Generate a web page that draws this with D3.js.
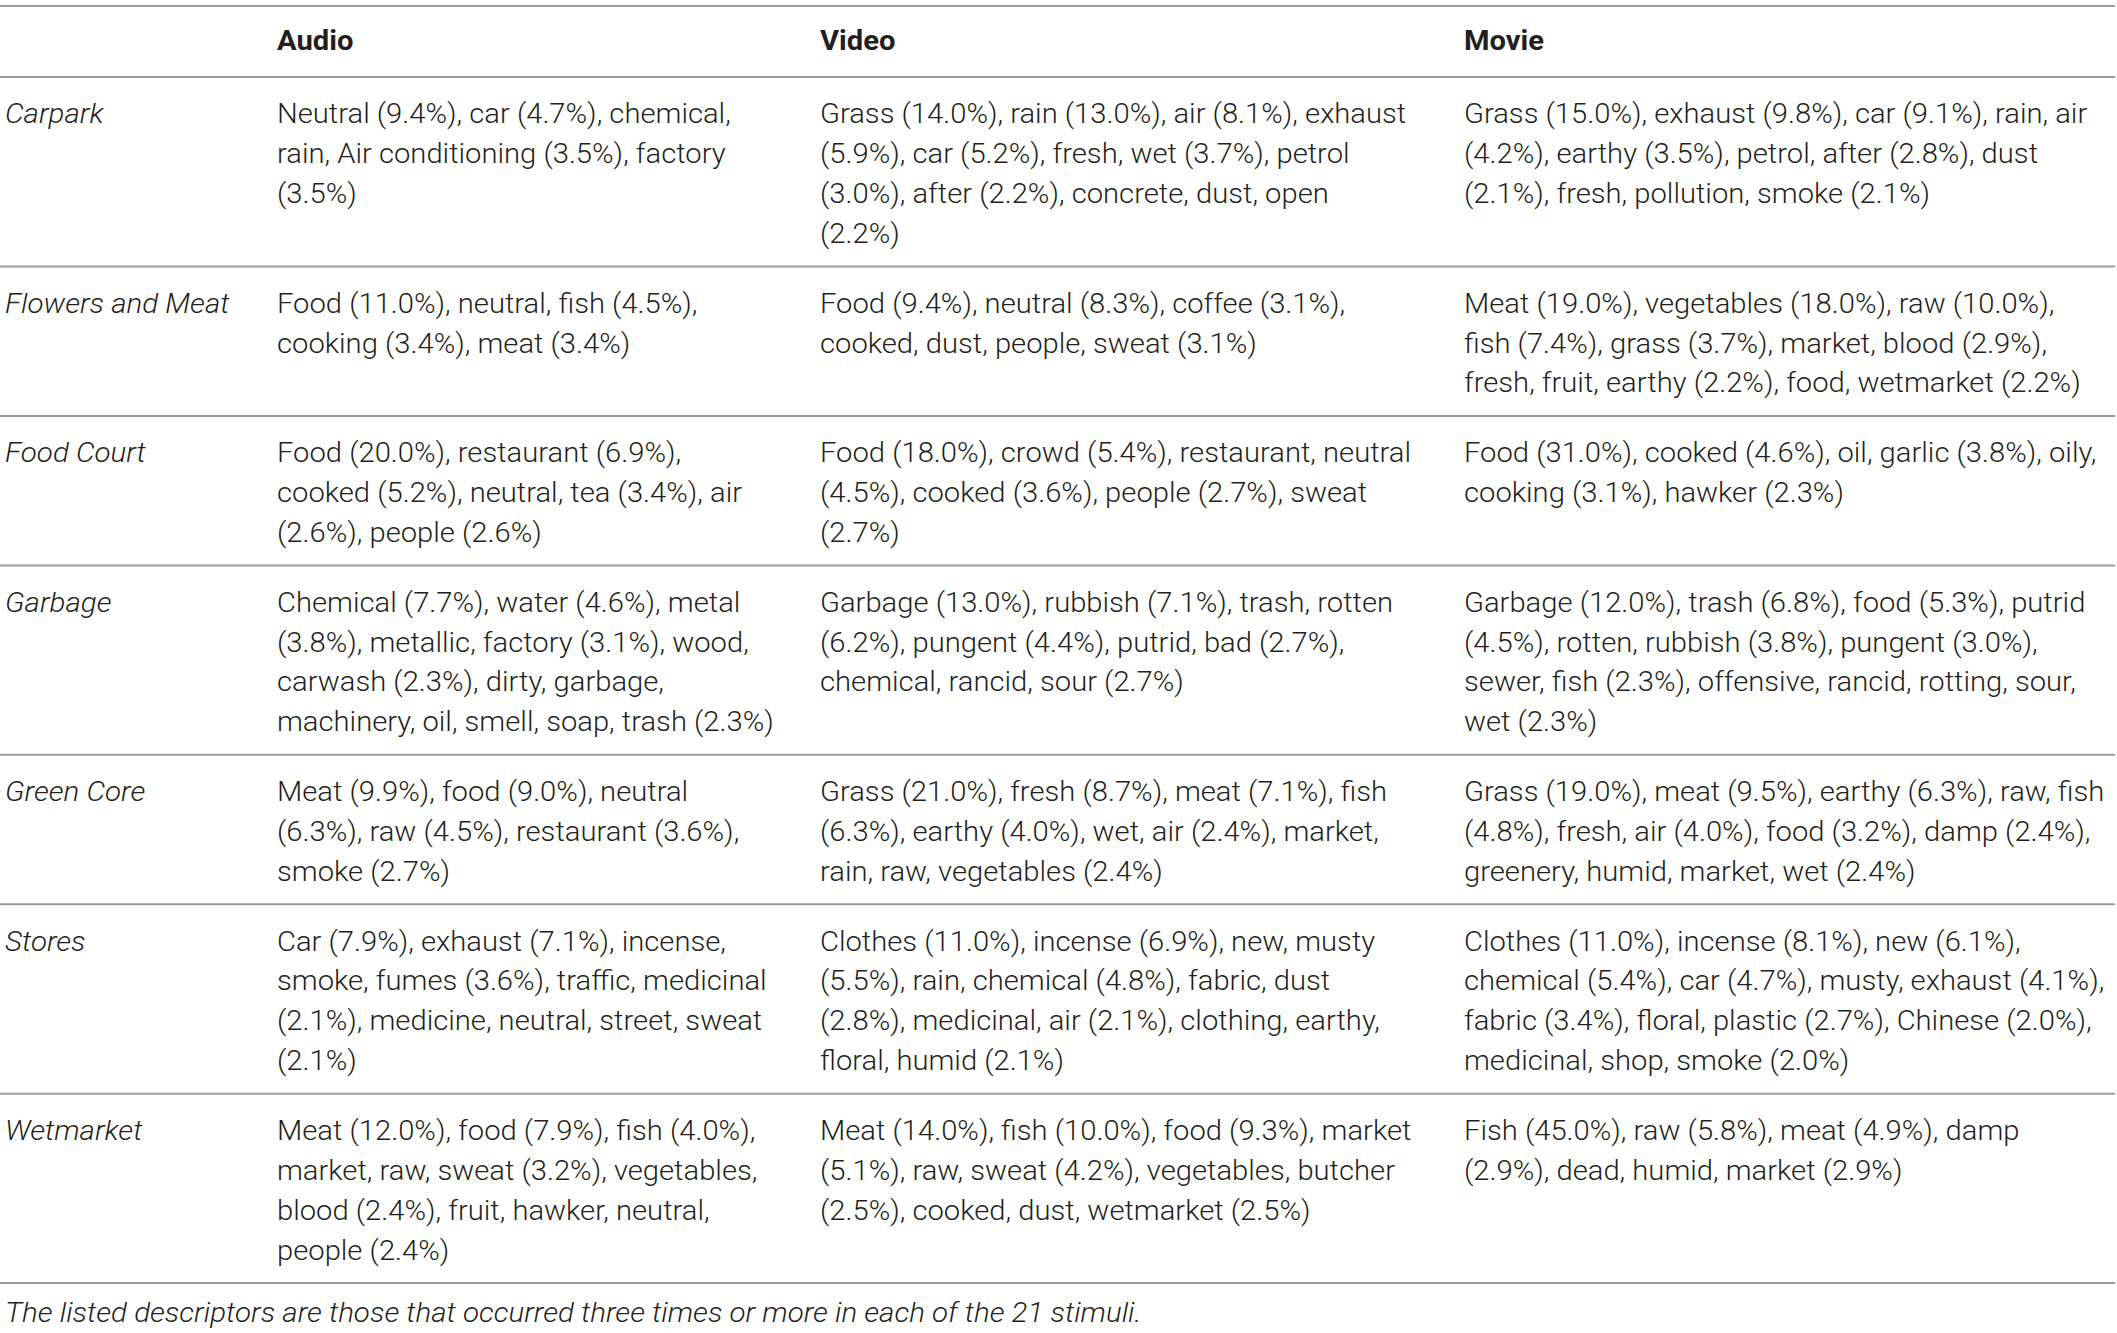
<!DOCTYPE html>
<html>
<head>
<meta charset="utf-8">
<script src="https://cdn.jsdelivr.net/npm/d3@7"></script>
<style>
  html, body { margin: 0; padding: 0; background: #fff; }
  svg { display: block; }
</style>
</head>
<body>
<svg id="chart" width="2117" height="1333"></svg>
<script>
// ---- data ----
const columns = ["", "Audio", "Video", "Movie"];
const rowLabels = ["Carpark", "Flowers and Meat", "Food Court", "Garbage", "Green Core", "Stores", "Wetmarket"];
const audioCells = [
  ["Neutral (9.4%), car (4.7%), chemical,", "rain, Air conditioning (3.5%), factory", "(3.5%)"],
  ["Food (11.0%), neutral, fish (4.5%),", "cooking (3.4%), meat (3.4%)"],
  ["Food (20.0%), restaurant (6.9%),", "cooked (5.2%), neutral, tea (3.4%), air", "(2.6%), people (2.6%)"],
  ["Chemical (7.7%), water (4.6%), metal", "(3.8%), metallic, factory (3.1%), wood,", "carwash (2.3%), dirty, garbage,", "machinery, oil, smell, soap, trash (2.3%)"],
  ["Meat (9.9%), food (9.0%), neutral", "(6.3%), raw (4.5%), restaurant (3.6%),", "smoke (2.7%)"],
  ["Car (7.9%), exhaust (7.1%), incense,", "smoke, fumes (3.6%), traffic, medicinal", "(2.1%), medicine, neutral, street, sweat", "(2.1%)"],
  ["Meat (12.0%), food (7.9%), fish (4.0%),", "market, raw, sweat (3.2%), vegetables,", "blood (2.4%), fruit, hawker, neutral,", "people (2.4%)"]
];
const videoCells = [
  ["Grass (14.0%), rain (13.0%), air (8.1%), exhaust", "(5.9%), car (5.2%), fresh, wet (3.7%), petrol", "(3.0%), after (2.2%), concrete, dust, open", "(2.2%)"],
  ["Food (9.4%), neutral (8.3%), coffee (3.1%),", "cooked, dust, people, sweat (3.1%)"],
  ["Food (18.0%), crowd (5.4%), restaurant, neutral", "(4.5%), cooked (3.6%), people (2.7%), sweat", "(2.7%)"],
  ["Garbage (13.0%), rubbish (7.1%), trash, rotten", "(6.2%), pungent (4.4%), putrid, bad (2.7%),", "chemical, rancid, sour (2.7%)"],
  ["Grass (21.0%), fresh (8.7%), meat (7.1%), fish", "(6.3%), earthy (4.0%), wet, air (2.4%), market,", "rain, raw, vegetables (2.4%)"],
  ["Clothes (11.0%), incense (6.9%), new, musty", "(5.5%), rain, chemical (4.8%), fabric, dust", "(2.8%), medicinal, air (2.1%), clothing, earthy,", "floral, humid (2.1%)"],
  ["Meat (14.0%), fish (10.0%), food (9.3%), market", "(5.1%), raw, sweat (4.2%), vegetables, butcher", "(2.5%), cooked, dust, wetmarket (2.5%)"]
];
const movieCells = [
  ["Grass (15.0%), exhaust (9.8%), car (9.1%), rain, air", "(4.2%), earthy (3.5%), petrol, after (2.8%), dust", "(2.1%), fresh, pollution, smoke (2.1%)"],
  ["Meat (19.0%), vegetables (18.0%), raw (10.0%),", "fish (7.4%), grass (3.7%), market, blood (2.9%),", "fresh, fruit, earthy (2.2%), food, wetmarket (2.2%)"],
  ["Food (31.0%), cooked (4.6%), oil, garlic (3.8%), oily,", "cooking (3.1%), hawker (2.3%)"],
  ["Garbage (12.0%), trash (6.8%), food (5.3%), putrid", "(4.5%), rotten, rubbish (3.8%), pungent (3.0%),", "sewer, fish (2.3%), offensive, rancid, rotting, sour,", "wet (2.3%)"],
  ["Grass (19.0%), meat (9.5%), earthy (6.3%), raw, fish", "(4.8%), fresh, air (4.0%), food (3.2%), damp (2.4%),", "greenery, humid, market, wet (2.4%)"],
  ["Clothes (11.0%), incense (8.1%), new (6.1%),", "chemical (5.4%), car (4.7%), musty, exhaust (4.1%),", "fabric (3.4%), floral, plastic (2.7%), Chinese (2.0%),", "medicinal, shop, smoke (2.0%)"],
  ["Fish (45.0%), raw (5.8%), meat (4.9%), damp", "(2.9%), dead, humid, market (2.9%)"]
];
const footnote = "The listed descriptors are those that occurred three times or more in each of the 21 stimuli.";

// ---- layout ----
const W = 2117;
const svg = d3.select("#chart");
const FONT = "Roboto, 'Helvetica Neue', 'Liberation Sans', Arial, sans-serif";
const FS = 27.5;
const TEXT = "#231f20";
const RULE = "#9c9c9c";

const x = d3.scaleOrdinal().domain(columns).range([5, 277, 820, 1464]);

const lineH = 39.9;
const pad = 29.8;
const nLines = rowLabels.map((_, i) => Math.max(1, audioCells[i].length, videoCells[i].length, movieCells[i].length));
const headerTop = 6, headerBottom = 77;
const rowTops = [headerBottom];
nLines.forEach((n, i) => rowTops.push(rowTops[i] + pad + n * lineH));
const y = d3.scaleLinear().domain([0, 1]).range([0, lineH]); // line index -> px offset

// calibrate horizontal scale to match reference text widths
function measure(str, weight, style) {
  const t = svg.append("text").attr("font-family", FONT).attr("font-weight", weight)
    .attr("font-style", style).attr("font-size", FS).text(str);
  const w = t.node().getComputedTextLength();
  t.remove();
  return w;
}
const w1 = measure("fresh, fruit, earthy (2.2%), food, wetmarket (2.2%)", 300, "normal");
const sx = w1 > 0 ? 617 / w1 : 1;
const w2 = measure(footnote, 300, "italic");
const sxi = w2 > 0 ? 1137 / w2 : sx;

// rules
const rules = [headerTop].concat(rowTops);
svg.selectAll("line.rule").data(rules).join("line")
  .attr("class", "rule")
  .attr("x1", 0).attr("x2", W - 2)
  .attr("y1", d => d).attr("y2", d => d)
  .attr("stroke", RULE).attr("stroke-width", 2);

// header
svg.selectAll("text.hdr").data(columns.slice(1)).join("text")
  .attr("class", "hdr")
  .attr("transform", d => `translate(${x(d)},${50}) scale(${sx},1)`)
  .attr("font-family", FONT).attr("font-weight", 700).attr("font-size", FS)
  .attr("fill", TEXT).text(d => d);

const capOff = 9.8; // baseline below line centre
const firstCentre = 36.5;

// row labels
svg.selectAll("text.rowlab").data(rowLabels).join("text")
  .attr("class", "rowlab")
  .attr("transform", (d, i) => `translate(${x("")},${rowTops[i] + firstCentre + capOff}) scale(${sxi},1)`)
  .attr("font-family", FONT).attr("font-weight", 300).attr("font-style", "italic").attr("font-size", FS)
  .attr("fill", TEXT).text(d => d);

// cells
const colData = [["Audio", audioCells], ["Video", videoCells], ["Movie", movieCells]];
colData.forEach(([col, cells]) => {
  const g = svg.append("g");
  const cellG = g.selectAll("g").data(cells).join("g")
    .attr("transform", (d, i) => `translate(${x(col)},${rowTops[i] + firstCentre + capOff}) scale(${sx},1)`);
  cellG.selectAll("text").data(d => d).join("text")
    .attr("y", (d, j) => y(j))
    .attr("font-family", FONT).attr("font-weight", 300).attr("font-size", FS)
    .attr("fill", TEXT).text(d => d);
});

// footnote
svg.append("text")
  .attr("transform", `translate(${x("")},${1312 + capOff}) scale(${sxi},1)`)
  .attr("font-family", FONT).attr("font-weight", 300).attr("font-style", "italic").attr("font-size", FS)
  .attr("fill", TEXT).text(footnote);
</script>
</body>
</html>
